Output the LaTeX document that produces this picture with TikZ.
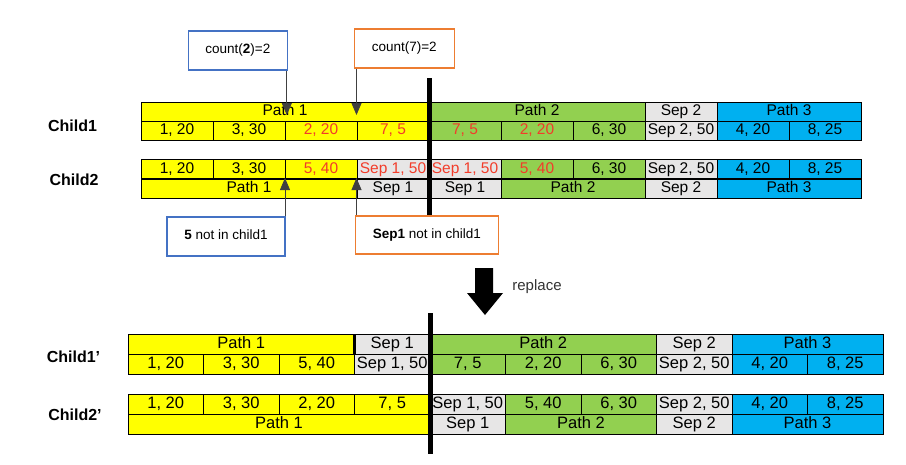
\documentclass[tikz,border=0pt]{standalone}
\usepackage{fontspec}
\setmainfont{Liberation Sans}
\usetikzlibrary{arrows.meta}
\definecolor{yel}{HTML}{FFFF00}
\definecolor{grn}{HTML}{92D050}
\definecolor{gry}{HTML}{E7E6E6}
\definecolor{blu}{HTML}{00B0F0}
\definecolor{hot}{HTML}{F23C2A}
\definecolor{bbox}{HTML}{4472C4}
\definecolor{obox}{HTML}{ED7D31}
\begin{document}
\begin{tikzpicture}[x=1pt,y=-1pt,line width=0.9pt,>={Triangle[width=10pt,length=12pt]},
cell/.style={draw,inner sep=0pt,outer sep=0pt,minimum height=19pt,text height=10.5pt,text depth=2.5pt,font=\fontsize{15.5}{15.5}\selectfont},
cellb/.style={cell,minimum height=20pt,text height=11pt,text depth=3pt,font=\fontsize{16.5}{16.5}\selectfont},
lab/.style={font=\bfseries\fontsize{16}{16}\selectfont},
note/.style={draw,line width=1.2pt,minimum height=39pt,inner sep=0pt,text height=9pt,text depth=3pt,font=\fontsize{13.5}{13.5}\selectfont},
pt/.style={->,draw=black!75,line width=0.8pt},
cut/.style={line width=5pt}]
\useasboundingbox (0,0) rectangle (906,464);
% before
\foreach \s/\n/\fc/\lbl [count=\k] in {0/4/yel/Path 1,4/3/grn/Path 2,7/1/gry/Sep 2,8/2/blu/Path 3}{\node[cell,fill=\fc,minimum width=\n*72pt] (t1-\k) at (141+72*\s+36*\n,111.5) {\lbl};};
\foreach \s/\fc/\tc/\lbl [count=\k] in {0/yel/black/{1, 20},1/yel/black/{3, 30},2/yel/hot/{2, 20},3/yel/hot/{7, 5},4/grn/hot/{7, 5},5/grn/hot/{2, 20},6/grn/black/{6, 30},7/gry/black/{Sep 2, 50},8/blu/black/{4, 20},9/blu/black/{8, 25}}{\node[cell,fill=\fc,text=\tc,minimum width=72pt] (b1-\k) at (177+72*\s,130.5) {\lbl};};
\foreach \s/\fc/\tc/\lbl [count=\k] in {0/yel/black/{1, 20},1/yel/black/{3, 30},2/yel/hot/{5, 40},3/gry/hot/{Sep 1, 50},4/gry/hot/{Sep 1, 50},5/grn/hot/{5, 40},6/grn/black/{6, 30},7/gry/black/{Sep 2, 50},8/blu/black/{4, 20},9/blu/black/{8, 25}}{\node[cell,fill=\fc,text=\tc,minimum width=72pt] (t2-\k) at (177+72*\s,169) {\lbl};};
\foreach \s/\n/\fc/\lbl [count=\k] in {0/3/yel/Path 1,3/1/gry/Sep 1,4/1/gry/Sep 1,5/2/grn/Path 2,7/1/gry/Sep 2,8/2/blu/Path 3}{\node[cell,fill=\fc,minimum width=\n*72pt] (b2-\k) at (141+72*\s+36*\n,188.5) {\lbl};};
% after
\foreach \s/\n/\fc/\lbl [count=\k] in {0/3/yel/Path 1,3/1/gry/Sep 1,4/3/grn/Path 2,7/1/gry/Sep 2,8/2/blu/Path 3}{\node[cellb,fill=\fc,minimum width=\n*75.5pt] (t3-\k) at (128+75.5*\s+37.75*\n,344) {\lbl};};
\foreach \s/\fc/\lbl [count=\k] in {0/yel/{1, 20},1/yel/{3, 30},2/yel/{5, 40},3/gry/{Sep 1, 50},4/grn/{7, 5},5/grn/{2, 20},6/grn/{6, 30},7/gry/{Sep 2, 50},8/blu/{4, 20},9/blu/{8, 25}}{\node[cellb,fill=\fc,minimum width=75.5pt] (b3-\k) at (165.75+75.5*\s,364) {\lbl};};
\foreach \s/\fc/\lbl [count=\k] in {0/yel/{1, 20},1/yel/{3, 30},2/yel/{2, 20},3/yel/{7, 5},4/gry/{Sep 1, 50},5/grn/{5, 40},6/grn/{6, 30},7/gry/{Sep 2, 50},8/blu/{4, 20},9/blu/{8, 25}}{\node[cellb,fill=\fc,minimum width=75.5pt] (t4-\k) at (165.75+75.5*\s,404.5) {\lbl};};
\foreach \s/\n/\fc/\lbl [count=\k] in {0/4/yel/Path 1,4/1/gry/Sep 1,5/2/grn/Path 2,7/1/gry/Sep 2,8/2/blu/Path 3}{\node[cellb,fill=\fc,minimum width=\n*75.5pt] (b4-\k) at (128+75.5*\s+37.75*\n,424.5) {\lbl};};
\draw[line width=3pt] (t3-1.north east) -- (t3-1.south east);
\node[lab] (l1) at (72.5,125.5) {Child1};
\node[lab] (l2) at (74,180) {Child2};
\node[lab] (l3) at (73.5,357) {Child1'};
\node[lab] (l4) at (75,415) {Child2'};
% cut points
\coordinate (cA) at (429,78); \coordinate (cB) at (429,215);
\coordinate (cC) at (430,313); \coordinate (cD) at (430,454);
\draw[cut] (cA) -- (cB);
\draw[cut] (cC) -- (cD);
% notes
\node[note,draw=bbox,minimum width=99pt] (n1) at (237.8,50.5) {count(\textbf{2})=2};
\node[note,draw=obox,minimum width=100pt] (n2) at (404.3,48.5) {count(7)=2};
\node[note,draw=bbox,minimum width=118pt] (n3) at (226,236.5) {\textbf{5} not in child1};
\node[note,draw=obox,minimum width=143pt,minimum height=38pt] (n4) at (426.8,235) {\textbf{Sep1} not in child1};
\coordinate (h1) at (286.8,115); \coordinate (h2) at (356.5,115);
\coordinate (h3) at (285,178); \coordinate (h4) at (356.5,178);
\draw[pt] (n1.south -| h1) -- (h1);
\draw[pt] (n2.south -| h2) -- (h2);
\draw[pt] (n3.north -| h3) -- (h3);
\draw[pt] (n4.north -| h4) -- (h4);
% replace
\fill (475,268) -- (493,268) -- (493,293) -- (503,293) -- (485,315) -- (467,293) -- (475,293) -- cycle;
\node[font=\fontsize{15}{15}\selectfont,text=black!80] (rep) at (537,287) {replace};
\end{tikzpicture}
\end{document}
